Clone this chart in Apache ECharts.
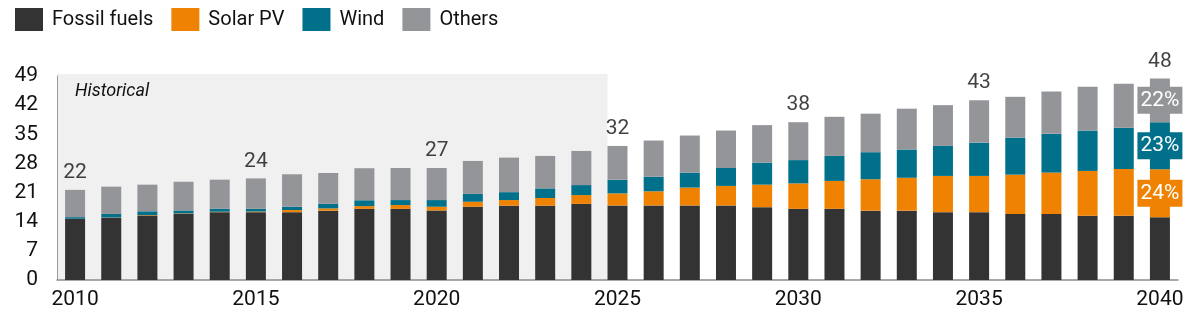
<!DOCTYPE html>
<html>
<head>
<meta charset="utf-8">
<script src="https://cdn.jsdelivr.net/npm/echarts@6/dist/echarts.min.js"></script>
<style>
html,body{margin:0;padding:0;background:#fff;}
#c{width:1201px;height:329px;}
</style>
</head>
<body>
<div id="c"></div>
<script>
const years = ['2010','2011','2012','2013','2014','2015','2016','2017','2018','2019','2020','2021','2022','2023','2024','2025','2026','2027','2028','2029','2030','2031','2032','2033','2034','2035','2036','2037','2038','2039','2040'];
const fossil = [14.65,14.97,15.5,15.9,16.3,16.3,16.3,16.65,17.1,17.1,16.7,17.6,17.85,17.85,18.3,17.9,17.9,17.9,17.9,17.5,17.1,17.1,16.65,16.65,16.3,16.3,15.85,15.85,15.45,15.45,15.05];
const solar = [0.05,0.05,0.1,0.1,0.1,0.15,0.5,0.55,0.65,0.9,0.9,1.2,1.35,1.85,2.1,2.9,3.4,4.3,4.7,5.4,6.1,6.7,7.55,7.9,8.7,8.7,9.45,9.95,10.75,11.2,11.55];
const wind = [0.4,0.85,0.9,0.7,0.7,0.65,0.8,1.1,1.4,1.2,1.6,1.9,1.9,2.3,2.4,3.3,3.5,3.6,4.3,5.3,5.6,6.0,6.5,6.8,7.2,8.0,8.9,9.3,9.7,9.9,11.3];
const others = [6.55,6.55,6.4,6.9,7.0,7.3,7.8,7.4,7.7,7.7,7.7,7.9,8.3,7.8,8.2,8.1,8.7,8.9,9.0,9.0,9.1,9.4,9.25,9.8,9.8,10.2,9.8,10.2,10.5,10.6,10.5];
const labeledYears = ['2010','2015','2020','2025','2030','2035','2040'];
const shareYear = '2040';
const yTicks = [0,7,14,21,28,35,42,49];
const historicalEnd = '2025';

(function () {
const COLORS = {fossil:'#333333', solar:'#EF8200', wind:'#00708B', others:'#939598'};
const FONT = 'Roboto';
const BAR_W = 20;

const totals = years.map((_, i) => fossil[i] + solar[i] + wind[i] + others[i]);
const shareIdx = years.indexOf(shareYear);

function withShare(arr, color) {
  return arr.map((v, i) => {
    if (i !== shareIdx) return v;
    return {
      value: v,
      label: {
        show: true, position: 'inside', color: '#fff', fontFamily: FONT, fontSize: 21,
        backgroundColor: color, padding: [3, 3, 2, 3], lineHeight: 22,
        formatter: p => Math.round(p.value / totals[i] * 100) + '%'
      }
    };
  });
}

const chart = echarts.init(document.getElementById('c'), null, {renderer: 'canvas'});
const option = {
  animation: false,
  textStyle: {fontFamily: FONT},
  legend: {
    left: 15, top: 8, padding: 0, itemWidth: 28, itemHeight: 23, itemGap: 18,
    icon: 'rect',
    textStyle: {fontFamily: FONT, fontSize: 20, color: '#111', padding: [0, 0, 0, 4]},
    data: ['Fossil fuels', 'Solar PV', 'Wind', 'Others']
  },
  grid: {left: 57, right: 23, top: 76, bottom: 49, containLabel: false},
  xAxis: {
    type: 'category', data: years, boundaryGap: true,
    axisLine: {show: true, lineStyle: {color: '#8c8c8c', width: 1.5}},
    axisTick: {show: false},
    axisLabel: {interval: 4, color: '#111', fontFamily: FONT, fontSize: 21, margin: 9}
  },
  yAxis: {
    type: 'value', min: yTicks[0], max: yTicks[yTicks.length - 1], interval: 7,
    axisLine: {show: true, lineStyle: {color: '#9a9a9a', width: 1}},
    axisTick: {show: false},
    splitLine: {show: false},
    axisLabel: {color: '#111', fontFamily: FONT, fontSize: 21, margin: 19}
  },
  series: [
    {name: 'Fossil fuels', type: 'bar', stack: 's', barWidth: BAR_W, itemStyle: {color: COLORS.fossil}, data: fossil},
    {name: 'Solar PV', type: 'bar', stack: 's', barWidth: BAR_W, itemStyle: {color: COLORS.solar}, data: withShare(solar, COLORS.solar)},
    {name: 'Wind', type: 'bar', stack: 's', barWidth: BAR_W, itemStyle: {color: COLORS.wind}, data: withShare(wind, COLORS.wind)},
    {name: 'Others', type: 'bar', stack: 's', barWidth: BAR_W, itemStyle: {color: COLORS.others}, data: withShare(others, COLORS.others)},
    {
      name: 'Total', type: 'scatter', symbolSize: 1, itemStyle: {color: 'rgba(0,0,0,0)'},
      silent: true, z: 5,
      label: {show: true, position: 'top', distance: 6, color: '#111', fontFamily: FONT, fontSize: 21,
        formatter: p => String(Math.round(p.value[1]))},
      data: years.map((y, i) => labeledYears.includes(y) ? [y, totals[i]] : null).filter(d => d)
    }
  ]
};
chart.setOption(option);

const c0 = chart.convertToPixel({xAxisIndex: 0}, years[0]);
const c1 = chart.convertToPixel({xAxisIndex: 0}, years[1]);
const band = c1 - c0;
const boxLeft = c0 - band / 2;
const boxRight = chart.convertToPixel({xAxisIndex: 0}, historicalEnd) - BAR_W / 2;
const boxTop = chart.convertToPixel({yAxisIndex: 0}, 49.5);
const boxBottom = chart.convertToPixel({yAxisIndex: 0}, 0);
chart.setOption({
  graphic: [
    {type: 'rect', z: -10, silent: true, shape: {x: boxLeft, y: boxTop, width: boxRight - boxLeft, height: boxBottom - boxTop}, style: {fill: '#F0F0F0'}},
    {type: 'text', z: 10, silent: true, x: boxLeft + 18, y: boxTop + 18,
      style: {text: 'Historical', fontFamily: FONT, fontStyle: 'italic', fontSize: 18, fill: '#111', verticalAlign: 'middle', align: 'left'}}
  ]
});
})();
</script>
</body>
</html>
